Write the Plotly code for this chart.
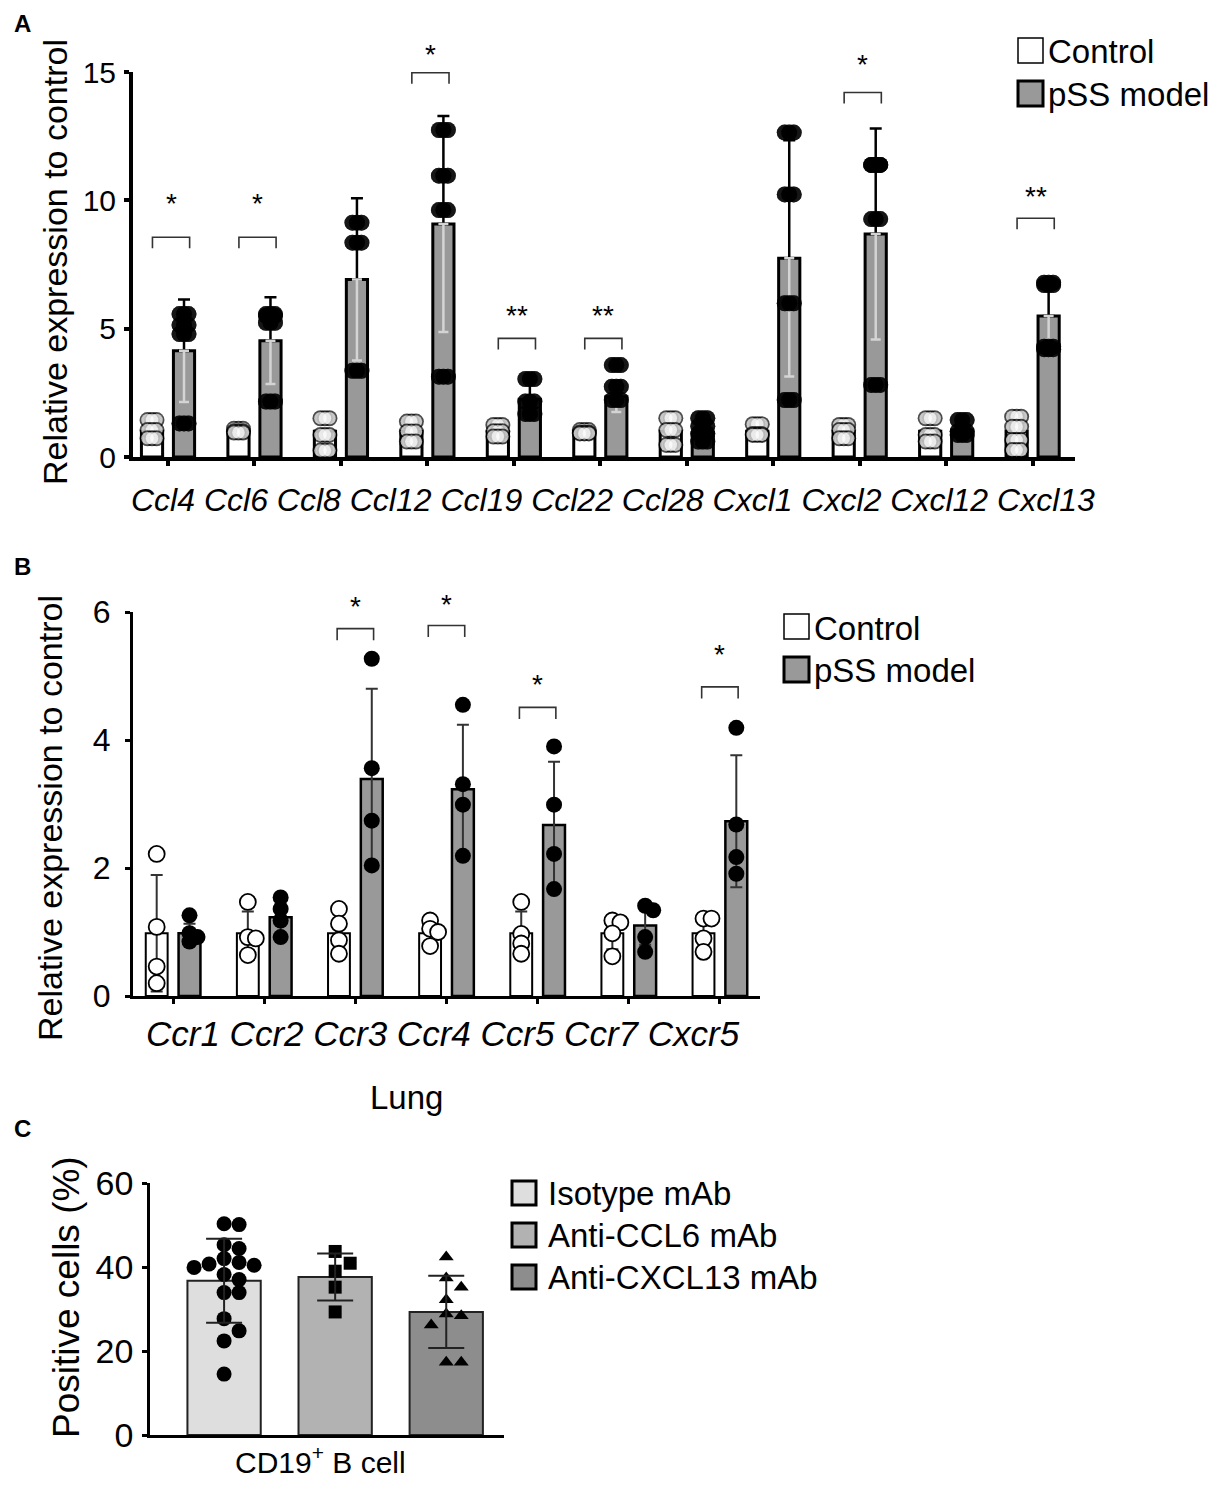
import plotly.graph_objects as go

# ---------------- data ----------------
# A: chemokines
genes_a = ["Ccl4", "Ccl6", "Ccl8", "Ccl12", "Ccl19", "Ccl22", "Ccl28", "Cxcl1", "Cxcl2", "Cxcl12", "Cxcl13"]
ctrl_mean_a = [1.0, 1.0, 1.0, 1.0, 1.0, 1.0, 1.0, 1.0, 1.0, 1.0, 1.0]
pss_mean_a = [4.14, 4.53, 6.92, 9.08, 2.25, 2.35, 0.95, 7.74, 8.69, 1.05, 5.49]
pss_sd_a = [2.0, 1.69, 3.16, 4.21, 0.7, 0.6, 0.45, 4.6, 4.11, 0.35, 1.4]
ctrl_dots_a = [
    [1.44, 1.05, 0.73], [1.1, 1.0, 0.95], [1.51, 0.86, 0.25], [1.38, 0.99, 0.6],
    [1.25, 1.0, 0.8], [1.05, 0.95, 0.92], [1.51, 1.05, 0.47], [1.28, 0.9, 0.86],
    [1.25, 1.05, 0.73], [1.51, 0.86, 0.6], [1.57, 1.18, 0.66, 0.27],
]
pss_dots_a = [
    [5.57, 5.14, 4.79, 1.31], [5.57, 5.5, 5.23, 2.16], [9.13, 8.35, 3.36],
    [12.74, 10.96, 9.62, 3.13], [3.04, 2.16, 1.68], [3.58, 2.74, 2.22],
    [1.51, 1.2, 0.92, 0.6], [12.64, 10.23, 5.99, 2.22], [11.38, 11.38, 9.27, 2.81],
    [1.44, 1.0, 0.86], [6.79, 6.7, 4.3, 4.2],
]
sig_a_gene = ["Ccl4", "Ccl6", "Ccl12", "Ccl19", "Ccl22", "Cxcl2", "Cxcl13"]
sig_a_height = [8.56, 8.56, 14.97, 4.62, 4.62, 14.2, 9.3]
sig_a_star = [10.0, 10.0, 15.79, 5.62, 5.62, 15.4, 10.27]
sig_a_text = ["*", "*", "*", "**", "**", "*", "**"]

# B: receptors (lung)
genes_b = ["Ccr1", "Ccr2", "Ccr3", "Ccr4", "Ccr5", "Ccr7", "Cxcr5"]
ctrl_mean_b = [0.98, 0.98, 0.98, 0.98, 0.98, 0.98, 0.98]
ctrl_sd_b = [0.91, 0.34, 0.3, 0.17, 0.34, 0.25, 0.22]
pss_mean_b = [0.98, 1.23, 3.39, 3.23, 2.67, 1.1, 2.73]
pss_sd_b = [0.15, 0.27, 1.41, 1.01, 0.99, 0.3, 1.03]
ctrl_dots_b = [
    [2.22, 1.08, 0.46, 0.2], [1.47, 0.92, 0.9, 0.64], [1.36, 1.13, 0.87, 0.66],
    [1.18, 1.05, 1.0, 0.78], [1.47, 0.97, 0.82, 0.66], [1.18, 1.15, 0.98, 0.62],
    [1.21, 1.21, 0.9, 0.69],
]
pss_dots_b = [
    [1.26, 0.98, 0.92, 0.85], [1.54, 1.36, 1.18, 0.92], [5.27, 3.56, 2.74, 2.04],
    [4.55, 3.31, 2.99, 2.19], [3.9, 2.99, 2.22, 1.67], [1.41, 1.34, 0.92, 0.69],
    [4.19, 2.68, 2.17, 1.91],
]
sig_b_gene = ["Ccr3", "Ccr4", "Ccr5", "Cxcr5"]
sig_b_height = [5.74, 5.79, 4.51, 4.83]
sig_b_star = [6.13, 6.16, 4.92, 5.38]
sig_b_text = ["*", "*", "*", "*"]

# C: CD19+ B cells
groups_c = ["Isotype mAb", "Anti-CCL6 mAb", "Anti-CXCL13 mAb"]
mean_c = [36.7, 37.6, 29.3]
sd_c = [10.0, 5.6, 8.6]
dots_c = [
    [50.3, 50.1, 45.3, 44.4, 42.0, 41.1, 40.7, 40.4, 39.9, 38.2, 37.0, 33.9, 33.9, 27.7, 24.8, 22.4, 14.5],
    [43.7, 40.9, 39.0, 35.2, 29.3],
    [42.4, 37.4, 35.2, 32.2, 28.8, 28.4, 26.2, 17.3, 17.3],
]

# ---------------- helpers ----------------
# the page body has an 8px margin, so the figure is 16px smaller than the window
PAGE_W, PAGE_H, BODY = 1216, 1489, 8
W, H = PAGE_W - 2 * BODY, PAGE_H - 2 * BODY
FONT = "Liberation Sans, Arial, sans-serif"
PSS_GRAY = "#999999"
C_COLORS = ["#dedede", "#b2b2b2", "#8d8d8d"]
YU_A, YU_B = 25.67, 64.0  # px per y unit in panels A and B


def px(x):
    return (x - BODY) / W


def py(y):
    return 1 - (y - BODY) / H


def swarm(vals, x_unit, y_unit, d, step):
    # simple deterministic beeswarm: offsets in data x units
    placed, offs = [], []
    cands = [0]
    for j in range(1, 8):
        cands += [j * step, -j * step]
    for v in vals:
        y = v * y_unit
        for c in cands:
            if all((c - a) ** 2 + (y - b) ** 2 >= d ** 2 for a, b in placed):
                break
        placed.append((c, y))
        offs.append(c / x_unit)
    return offs


def flat_dots(groups, centers, x_unit, y_unit, d=0, step=0):
    xs, ys = [], []
    for c, pts in zip(centers, groups):
        offs = swarm(pts, x_unit, y_unit, d, step) if d else [0] * len(pts)
        xs += [c + o for o in offs]
        ys += pts
    return xs, ys


def oval_points(xs, ys, half, outer, inner, fill):
    # each wide oval = three overlapping circles (outline pass, then fill pass), drawn dot by dot
    ox, oy, sz, col = [], [], [], []
    for x, y in zip(xs, ys):
        for s, c in ((outer, "black"), (inner, fill)):
            for dx in (-half, 0, half):
                ox.append(x + dx)
                oy.append(y)
                sz.append(s)
                col.append(c)
    return ox, oy, sz, col


def brackets(idx, heights, left, right, leg):
    xs, ys = [], []
    for i, h in zip(idx, heights):
        xs += [i + left, i + left, i + right, i + right, None]
        ys += [h - leg, h, h, h - leg, None]
    return xs, ys


fig = go.Figure()

# ---------------- panel A ----------------
OFF_A, BW_A = 0.185, 0.245
XU_A = 86.5  # px per category
xa = list(range(len(genes_a)))
fig.add_trace(go.Bar(
    x=[i - OFF_A for i in xa], y=ctrl_mean_a, width=BW_A,
    marker=dict(color="white", line=dict(color="black", width=3)),
    xaxis="x", yaxis="y"))
fig.add_trace(go.Bar(
    x=[i + OFF_A for i in xa], y=pss_mean_a, width=BW_A,
    marker=dict(color=PSS_GRAY, line=dict(color="black", width=3)),
    error_y=dict(type="data", array=pss_sd_a, arrayminus=[0] * len(xa), symmetric=False,
                 color="black", thickness=2.5, width=6),
    xaxis="x", yaxis="y"))
# lower half of the SD bars shows as a light line inside the grey bars
fig.add_trace(go.Scatter(
    x=[i + OFF_A for i in xa], y=pss_mean_a, mode="markers", marker=dict(size=1, opacity=0),
    error_y=dict(type="data", array=[0] * len(xa), arrayminus=pss_sd_a, symmetric=False,
                 color="#d4d4d4", thickness=2.5, width=5),
    xaxis="x", yaxis="y"))
cx, cy = flat_dots(ctrl_dots_a, [i - OFF_A for i in xa], XU_A, YU_A)
ox, oy, sz, col = oval_points(cx, cy, 4.5 / XU_A, 16, 12.5, "white")
fig.add_trace(go.Scatter(x=ox, y=oy, mode="markers",
                         marker=dict(symbol="circle", size=sz, color=col, line=dict(width=0)),
                         xaxis="x", yaxis="y"))
sx, sy = flat_dots(pss_dots_a, [i + OFF_A for i in xa], XU_A, YU_A)
ox, oy, sz, col = oval_points(sx, sy, 4.5 / XU_A, 16, 16, "black")
fig.add_trace(go.Scatter(x=ox, y=oy, mode="markers",
                         marker=dict(symbol="circle", size=sz, color=col, line=dict(width=0)),
                         xaxis="x", yaxis="y"))
bx, by = brackets([genes_a.index(g) for g in sig_a_gene], sig_a_height, -0.18, 0.25, 0.43)
fig.add_trace(go.Scatter(x=bx, y=by, mode="lines", line=dict(color="#333333", width=1.6),
                         xaxis="x", yaxis="y", cliponaxis=False))

# ---------------- panel B ----------------
OFF_B, BW_B = 0.18, 0.24
xb = list(range(len(genes_b)))
fig.add_trace(go.Bar(
    x=[i - OFF_B for i in xb], y=ctrl_mean_b, width=BW_B,
    marker=dict(color="white", line=dict(color="black", width=2)),
    error_y=dict(type="data", array=ctrl_sd_b, color="#333333", thickness=2, width=6),
    xaxis="x2", yaxis="y2"))
fig.add_trace(go.Bar(
    x=[i + OFF_B for i in xb], y=pss_mean_b, width=BW_B,
    marker=dict(color=PSS_GRAY, line=dict(color="black", width=2.5)),
    error_y=dict(type="data", array=pss_sd_b, color="#333333", thickness=2, width=6),
    xaxis="x2", yaxis="y2"))
cx, cy = flat_dots(ctrl_dots_b, [i - OFF_B for i in xb], 91.1, YU_B, 7, 8)
fig.add_trace(go.Scatter(x=cx, y=cy, mode="markers",
                         marker=dict(symbol="circle", size=16, color="white", line=dict(color="black", width=1.8)),
                         xaxis="x2", yaxis="y2"))
sx, sy = flat_dots(pss_dots_b, [i + OFF_B for i in xb], 91.1, YU_B, 7, 8)
fig.add_trace(go.Scatter(x=sx, y=sy, mode="markers",
                         marker=dict(symbol="circle", size=16, color="black"),
                         xaxis="x2", yaxis="y2"))
bx, by = brackets([genes_b.index(g) for g in sig_b_gene], sig_b_height, -0.2, 0.2, 0.18)
fig.add_trace(go.Scatter(x=bx, y=by, mode="lines", line=dict(color="#333333", width=1.6),
                         xaxis="x2", yaxis="y2", cliponaxis=False))

# ---------------- panel C ----------------
xc = list(range(len(groups_c)))
fig.add_trace(go.Bar(
    x=xc, y=mean_c, width=0.66,
    marker=dict(color=C_COLORS, line=dict(color="#222222", width=2)),
    xaxis="x3", yaxis="y3"))
symbols_c = ["circle", "square", "triangle-up"]
sizes_c = [15, 13, 13]
for i, pts in enumerate(dots_c):
    dx, dy = flat_dots([pts], [i], 111.0, 4.2, 13, 15)
    fig.add_trace(go.Scatter(x=dx, y=dy, mode="markers",
                             marker=dict(symbol=symbols_c[i], size=sizes_c[i], color="black"),
                             xaxis="x3", yaxis="y3"))
fig.add_trace(go.Scatter(
    x=xc, y=mean_c, mode="markers", marker=dict(size=1, opacity=0),
    error_y=dict(type="data", array=sd_c, color="#222222", thickness=2, width=18),
    xaxis="x3", yaxis="y3"))

# ---------------- axes ----------------
common = dict(showgrid=False, zeroline=False, showline=True, linecolor="black", mirror=False,
              ticks="outside", tickcolor="black", automargin=False, tickangle=0)
fig.update_layout(
    xaxis=dict(common, domain=[px(133), px(1075)], range=[-0.405, 10.49], anchor="y",
               tickvals=xa, showticklabels=False, linewidth=4, ticklen=5, tickwidth=4),
    yaxis=dict(common, domain=[py(457), py(72)], range=[0, 15], anchor="x",
               tickvals=[0, 5, 10, 15], linewidth=4, ticklen=5, tickwidth=4,
               ticklabelstandoff=2, tickfont=dict(size=30)),
    xaxis2=dict(common, domain=[px(133), px(760)], range=[-0.44, 6.44], anchor="y2",
                tickvals=xb, showticklabels=False, linewidth=3, ticklen=5, tickwidth=3),
    yaxis2=dict(common, domain=[py(996), py(612)], range=[0, 6], anchor="x2",
                tickvals=[0, 2, 4, 6], linewidth=3, ticklen=5, tickwidth=3,
                ticklabelstandoff=8, tickfont=dict(size=32)),
    xaxis3=dict(common, domain=[px(150), px(504)], range=[-0.667, 2.52], anchor="y3",
                showticklabels=False, ticks="", linewidth=2.5),
    yaxis3=dict(common, domain=[py(1435), py(1183)], range=[0, 60], anchor="x3",
                tickvals=[0, 20, 40, 60], linewidth=2.5, ticklen=5, tickwidth=2.5,
                ticklabelstandoff=2, tickfont=dict(size=34)),
)

# ---------------- text ----------------
# stars are anchored on the bracket (inside the axis range) and lifted to their own height
ann = []
for g, h, s, t in zip(sig_a_gene, sig_a_height, sig_a_star, sig_a_text):
    ann.append(dict(x=genes_a.index(g) + 0.035, y=h, xref="x", yref="y", text=t, showarrow=False,
                    yanchor="middle", yshift=(s - h) * YU_A - 3, font=dict(size=28)))
for g, h, s, t in zip(sig_b_gene, sig_b_height, sig_b_star, sig_b_text):
    ann.append(dict(x=genes_b.index(g), y=h, xref="x2", yref="y2", text=t, showarrow=False,
                    yanchor="middle", yshift=(s - h) * YU_B - 3, font=dict(size=28)))


def label(x, y, text, size, **kw):
    d = dict(x=px(x), y=py(y), xref="paper", yref="paper", text=text, showarrow=False,
             font=dict(size=size), xanchor="center", yanchor="middle")
    d.update(kw)
    ann.append(d)


# gene names run as one line of text under each panel, as in the original figure
label(613, 500, "<i>" + " ".join(genes_a) + "</i>", 32)
label(443, 1033, "<i>" + " ".join(genes_b) + "</i>", 35)

label(12, 23, "<b>A</b>", 24, xanchor="left")
label(12, 566, "<b>B</b>", 24, xanchor="left")
label(12, 1128, "<b>C</b>", 24, xanchor="left")
label(55, 262, "Relative expression to control", 34, textangle=-90)
label(50, 818, "Relative expression to control", 34, textangle=-90)
label(66, 1297, "Positive cells (%)", 37, textangle=-90)
label(406, 1097, "Lung", 33)
label(320, 1460, "CD19<sup>+</sup> B cell", 30)

# legends (square swatch + text)
shapes = []


def swatch(x0, y0, size, color, lw):
    shapes.append(dict(type="rect", xref="paper", yref="paper", x0=px(x0), x1=px(x0 + size),
                       y0=py(y0 + size), y1=py(y0), fillcolor=color, line=dict(color="black", width=lw)))


swatch(1018, 38, 25, "white", 1.5)
swatch(1018, 81, 25, PSS_GRAY, 3)
label(1046, 52, "Control", 33, xanchor="left")
label(1046, 94, "pSS model", 33, xanchor="left")

swatch(784, 614, 25, "white", 1.5)
swatch(784, 657, 25, PSS_GRAY, 3)
label(812, 628, "Control", 33, xanchor="left")
label(812, 670, "pSS model", 33, xanchor="left")

for k, (g, col) in enumerate(zip(groups_c, C_COLORS)):
    swatch(512, 1181 + 42 * k, 24, col, 3)
    label(546, 1193 + 42 * k, g, 33, xanchor="left")

fig.update_layout(
    width=W, height=H, margin=dict(l=0, r=0, t=0, b=0, autoexpand=False),
    paper_bgcolor="white", plot_bgcolor="white", showlegend=False, barmode="overlay",
    font=dict(family=FONT, color="black"), annotations=ann, shapes=shapes,
)

fig.write_html("out.html")
